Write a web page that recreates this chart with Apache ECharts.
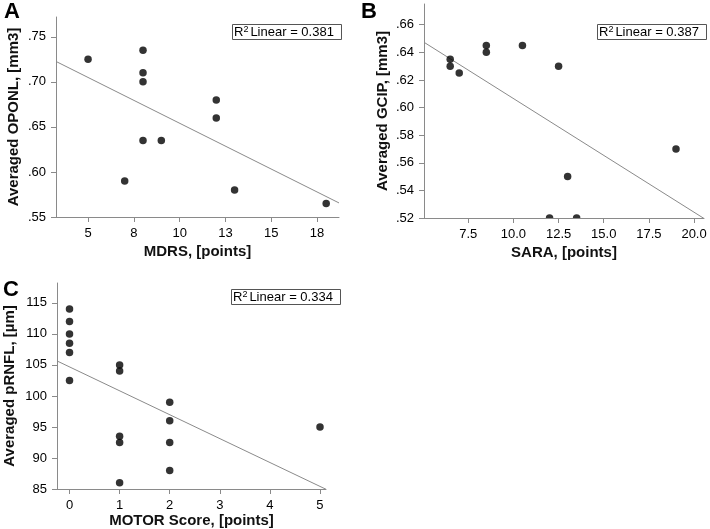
<!DOCTYPE html>
<html><head><meta charset="utf-8">
<script src="https://cdn.jsdelivr.net/npm/echarts@6/dist/echarts.min.js"></script>
<style>html,body{margin:0;padding:0;background:#fff}#c{width:710px;height:529px}</style>
</head><body><div id="c"></div>
<script>
// ---- Panel A: MDRS vs averaged OPONL
const mdrs  = [5, 8, 8, 8, 8, 9, 7, 12, 12, 13, 18];
const oponl = [0.725, 0.735, 0.71, 0.70, 0.635, 0.635, 0.59, 0.68, 0.66, 0.58, 0.565];
// ---- Panel B: SARA vs averaged GCIP
const sara = [6.5, 6.5, 7, 8.5, 8.5, 10.5, 12.5, 13, 12, 13.5, 19];
const gcip = [0.635, 0.63, 0.625, 0.645, 0.64, 0.645, 0.63, 0.55, 0.52, 0.52, 0.57];
// ---- Panel C: MOTOR score vs averaged pRNFL
const motor = [0, 0, 0, 0, 0, 0, 1, 1, 1, 1, 1, 2, 2, 2, 2, 5];
const prnfl = [114, 112, 110, 108.5, 107, 102.5, 105, 104, 93.5, 92.5, 86, 99, 96, 92.5, 88, 95];

// ---- Tick values and labels
const xTicksA = [5, 7.5, 10, 12.5, 15, 17.5];
const xLabelsA = ['5', '8', '10', '13', '15', '18'];
const yTicksA = [0.55, 0.60, 0.65, 0.70, 0.75];
const yLabelsA = ['.55', '.60', '.65', '.70', '.75'];
const xTicksB = [7.5, 10, 12.5, 15, 17.5, 20];
const xLabelsB = ['7.5', '10.0', '12.5', '15.0', '17.5', '20.0'];
const yTicksB = [0.52, 0.54, 0.56, 0.58, 0.60, 0.62, 0.64, 0.66];
const yLabelsB = ['.52', '.54', '.56', '.58', '.60', '.62', '.64', '.66'];
const xTicksC = [0, 1, 2, 3, 4, 5];
const xLabelsC = ['0', '1', '2', '3', '4', '5'];
const yTicksC = [85, 90, 95, 100, 105, 110, 115];
const yLabelsC = ['85', '90', '95', '100', '105', '110', '115'];

const panelLetters = ['A', 'B', 'C'];
const r2Labels = ['0.381', '0.387', '0.334'];
const xNames = ['MDRS, [points]', 'SARA, [points]', 'MOTOR Score, [points]'];
const yNames = ['Averaged OPONL, [mm3]', 'Averaged GCIP, [mm3]', 'Averaged pRNFL, [\u00b5m]'];

const F = '"Liberation Sans", Arial, sans-serif';
const AX = '#8a8a8a';

function fit(xs, ys) {
  const n = xs.length;
  const mx = xs.reduce((a, b) => a + b, 0) / n;
  const my = ys.reduce((a, b) => a + b, 0) / n;
  let sxy = 0, sxx = 0;
  for (let i = 0; i < n; i++) { sxy += (xs[i] - mx) * (ys[i] - my); sxx += (xs[i] - mx) ** 2; }
  const b = sxy / sxx, a = my - b * mx;
  return x => a + b * x;
}
function pairs(xs, ys) { return xs.map((x, i) => [x, ys[i]]); }
function fmt(ticks, labels) {
  return v => { const i = ticks.findIndex(t => Math.abs(t - v) < 1e-9); return i >= 0 ? labels[i] : ''; };
}

const panels = [
  { xs: mdrs, ys: oponl, xmin: 3.25, xmax: 18.7, ymin: 0.55, ymax: 0.772,
    xT: xTicksA, xL: xLabelsA, yT: yTicksA, yL: yLabelsA,
    grid: { left: 56, top: 17, width: 283, height: 200 }, xGap: 27, yGap: 35 },
  { xs: sara, ys: gcip, xmin: 5.05, xmax: 20.55, ymin: 0.52, ymax: 0.675,
    xT: xTicksB, xL: xLabelsB, yT: yTicksB, yL: yLabelsB,
    grid: { left: 424, top: 4, width: 280, height: 214 }, xGap: 27, yGap: 34 },
  { xs: motor, ys: prnfl, xmin: -0.25, xmax: 5.12, ymin: 85, ymax: 118.2,
    xT: xTicksC, xL: xLabelsC, yT: yTicksC, yL: yLabelsC,
    grid: { left: 57, top: 283, width: 269, height: 206 }, xGap: 23, yGap: 40 }
];

const grids = [], xAxes = [], yAxes = [], series = [];
panels.forEach((p, i) => {
  grids.push(Object.assign({ containLabel: false }, p.grid));
  const common = (ticks, labels) => ({
    axisLine: { show: true, onZero: false, lineStyle: { color: AX, width: 1 } },
    axisTick: { show: true, length: 5, inside: false, customValues: ticks, lineStyle: { color: AX, width: 1 } },
    axisLabel: { customValues: ticks, formatter: fmt(ticks, labels), margin: 10,
                 fontFamily: F, fontSize: 13, color: '#000' },
    splitLine: { show: false },
    nameLocation: 'middle',
    nameTextStyle: { fontFamily: F, fontSize: 15, fontWeight: 'bold', color: '#111' },
    z: 10
  });
  xAxes.push(Object.assign({ type: 'value', gridIndex: i, min: p.xmin, max: p.xmax,
    name: xNames[i], nameGap: p.xGap }, common(p.xT, p.xL)));
  yAxes.push(Object.assign({ type: 'value', gridIndex: i, min: p.ymin, max: p.ymax,
    name: yNames[i], nameGap: p.yGap }, common(p.yT, p.yL)));
  const f = fit(p.xs, p.ys);
  series.push({ type: 'line', xAxisIndex: i, yAxisIndex: i, showSymbol: false, silent: true,
    data: [[p.xmin, f(p.xmin)], [p.xmax, f(p.xmax)]],
    lineStyle: { color: '#8a8a8a', width: 1 }, z: 1 });
  series.push({ type: 'scatter', xAxisIndex: i, yAxisIndex: i, symbolSize: 7.5,
    itemStyle: { color: '#000' }, data: pairs(p.xs, p.ys), z: 2 });
});

const letterPos = [{ left: 4, top: 1 }, { left: 361, top: 1 }, { left: 3, top: 279 }];
const boxPos = [{ left: 232, top: 24 }, { left: 597, top: 24 }, { left: 231, top: 289 }];
const titles = [];
panelLetters.forEach((L, i) => titles.push(Object.assign({ text: L, padding: 0,
  textStyle: { fontFamily: F, fontSize: 22, fontWeight: 'bold', color: '#000' } }, letterPos[i])));
const base = { fontFamily: F, color: '#000', fontWeight: 'normal', lineHeight: 15 };
r2Labels.forEach((r, i) => titles.push(Object.assign({
  text: '{r|R}{s|2}{t|Linear = ' + r + '}',
  padding: [1, 8, 1, 2], borderColor: '#555', borderWidth: 1, backgroundColor: '#fff',
  textStyle: { fontWeight: 'normal', rich: {
    r: Object.assign({ fontSize: 13 }, base),
    s: Object.assign({ fontSize: 9, verticalAlign: 'top', padding: [0, 2, 0, 0] }, base),
    t: Object.assign({ fontSize: 13 }, base)
  } } }, boxPos[i])));

const chart = echarts.init(document.getElementById('c'), null, { renderer: 'canvas' });
chart.setOption({
  animation: false,
  backgroundColor: '#fff',
  title: titles,
  grid: grids, xAxis: xAxes, yAxis: yAxes, series: series,
  graphic: [{ type: 'rect', shape: { x: 425, y: 218.6, width: 279, height: 5 },
              style: { fill: '#fff' }, z: 5, silent: true }]
});
</script></body></html>
